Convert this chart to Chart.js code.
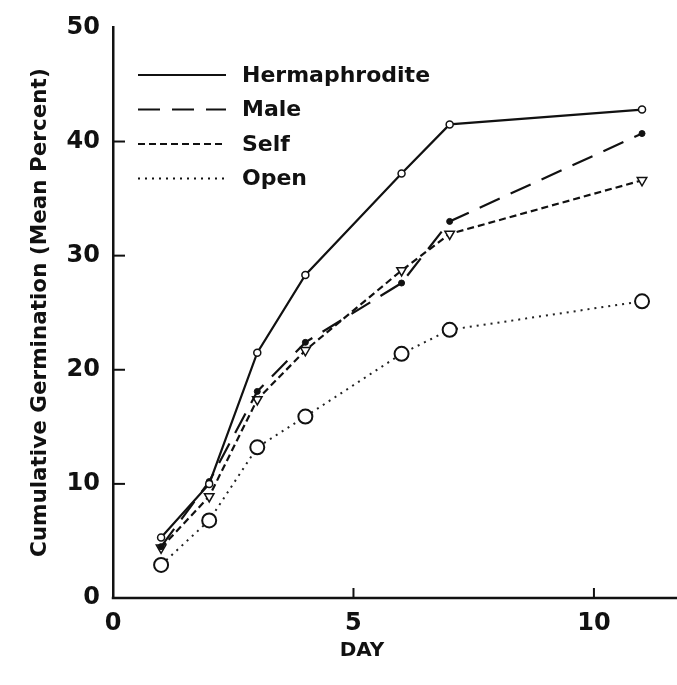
<!DOCTYPE html>
<html>
<head>
<meta charset="utf-8">
<script src="https://cdn.jsdelivr.net/npm/chart.js@4/dist/chart.umd.min.js"></script>
<style>
  html, body { margin: 0; padding: 0; background: #fff; }
  #wrap { width: 677px; height: 685px; }
</style>
</head>
<body>
<div id="wrap"><canvas id="germChart" width="677" height="685"></canvas></div>
<script>
// Values
const days = [1, 2, 3, 4, 6, 7, 11];
const hermaphroditeValues = [5.3, 10.0, 21.5, 28.3, 37.2, 41.5, 42.8];
const maleValues = [4.5, 10.2, 18.1, 22.4, 27.6, 33.0, 40.7];
const selfValues = [4.4, 8.9, 17.4, 21.7, 28.7, 31.9, 36.6];
const openValues = [2.9, 6.8, 13.2, 15.9, 21.4, 23.5, 26.0];
const xTickValues = [0, 5, 10];
const yTickValues = [0, 10, 20, 30, 40, 50];

const FONT = '"DejaVu Sans", "Liberation Sans", Arial, sans-serif';

function toPoints(values) {
  return days.map((d, i) => ({ x: d, y: values[i] }));
}

// Bottom axis line, inward tick marks, the in-plot legend and the DAY title
const paperStyle = {
  id: 'paperStyle',
  afterDraw(chart) {
    const ctx = chart.ctx;
    const xs = chart.scales.x;
    const ys = chart.scales.y;
    const area = chart.chartArea;

    ctx.save();
    ctx.strokeStyle = '#111';

    // bottom axis runs on to the page edge
    ctx.lineWidth = 2.5;
    ctx.beginPath();
    ctx.moveTo(area.left - 1.25, area.bottom);
    ctx.lineTo(chart.width, area.bottom);
    ctx.stroke();

    ctx.lineWidth = 2;
    yTickValues.forEach(v => {
      if (v === 0 || v === 50) return;
      const py = ys.getPixelForValue(v);
      ctx.beginPath();
      ctx.moveTo(area.left, py);
      ctx.lineTo(area.left + 12, py);
      ctx.stroke();
    });
    xTickValues.forEach(v => {
      if (v === 0) return;
      const px = xs.getPixelForValue(v);
      ctx.beginPath();
      ctx.moveTo(px, area.bottom);
      ctx.lineTo(px, area.bottom - 10);
      ctx.stroke();
    });

    // legend
    chart.data.datasets.forEach((ds, i) => {
      const y = 75 + i * 34.5;
      ctx.strokeStyle = '#111';
      ctx.lineWidth = ds.borderWidth;
      ctx.setLineDash(ds.borderDash || []);
      ctx.beginPath();
      ctx.moveTo(138, y);
      ctx.lineTo(226, y);
      ctx.stroke();
      ctx.setLineDash([]);
      ctx.fillStyle = '#111';
      ctx.font = 'bold 22px ' + FONT;
      ctx.textBaseline = 'middle';
      ctx.textAlign = 'left';
      ctx.fillText(ds.label, 242, y + 1);
    });

    // x axis title
    ctx.font = 'bold 20px ' + FONT;
    ctx.textAlign = 'center';
    ctx.textBaseline = 'middle';
    ctx.fillText('DAY', 362, 651);
    ctx.restore();
  }
};

const ctx = document.getElementById('germChart');

new Chart(ctx, {
  type: 'line',
  data: {
    datasets: [
      {
        label: 'Hermaphrodite',
        data: toPoints(hermaphroditeValues),
        borderColor: '#111',
        borderWidth: 2.2,
        pointStyle: 'circle',
        pointRadius: 3.5,
        pointBackgroundColor: '#fff',
        pointBorderColor: '#111',
        pointBorderWidth: 1.5
      },
      {
        label: 'Male',
        data: toPoints(maleValues),
        borderColor: '#111',
        borderWidth: 2.2,
        borderDash: [22, 12],
        pointStyle: 'circle',
        pointRadius: 3,
        pointBackgroundColor: '#111',
        pointBorderColor: '#111',
        pointBorderWidth: 1
      },
      {
        label: 'Self',
        data: toPoints(selfValues),
        borderColor: '#111',
        borderWidth: 2.2,
        borderDash: [7, 4],
        pointStyle: 'triangle',
        rotation: 180,
        pointRadius: 5.5,
        pointBackgroundColor: '#fff',
        pointBorderColor: '#111',
        pointBorderWidth: 1.5
      },
      {
        label: 'Open',
        data: toPoints(openValues),
        borderColor: '#222',
        borderWidth: 2,
        borderDash: [2, 5],
        pointStyle: 'circle',
        pointRadius: 7,
        pointBackgroundColor: '#fff',
        pointBorderColor: '#111',
        pointBorderWidth: 2
      }
    ]
  },
  options: {
    responsive: false,
    animation: false,
    events: [],
    clip: false,
    layout: { padding: { top: 22, right: 0, bottom: 0, left: 0 } },
    elements: { line: { tension: 0 } },
    plugins: {
      legend: { display: false },
      tooltip: { enabled: false },
      title: { display: false }
    },
    scales: {
      x: {
        type: 'linear',
        min: 0,
        max: 11.54,
        afterBuildTicks: (scale) => {
          scale.ticks = xTickValues.map(v => ({ value: v }));
        },
        afterFit: (scale) => { scale.height = 87; },
        grid: { display: false, drawTicks: false },
        border: { display: false },
        ticks: {
          color: '#111',
          padding: 11,
          font: { family: FONT, size: 24, weight: 'bold' },
          maxRotation: 0
        }
      },
      y: {
        type: 'linear',
        min: 0,
        max: 50,
        afterBuildTicks: (scale) => {
          scale.ticks = yTickValues.map(v => ({ value: v }));
        },
        afterFit: (scale) => { scale.width = 113; },
        grid: { display: false, drawTicks: false },
        border: { display: true, color: '#111', width: 2.5 },
        ticks: {
          color: '#111',
          padding: 13,
          font: { family: FONT, size: 24, weight: 'bold' }
        },
        title: {
          display: true,
          text: 'Cumulative Germination (Mean Percent)',
          color: '#111',
          font: { family: FONT, size: 21.5, weight: 'bold' },
          padding: { top: 28, bottom: 0 }
        }
      }
    }
  },
  plugins: [paperStyle]
});
</script>
</body>
</html>
